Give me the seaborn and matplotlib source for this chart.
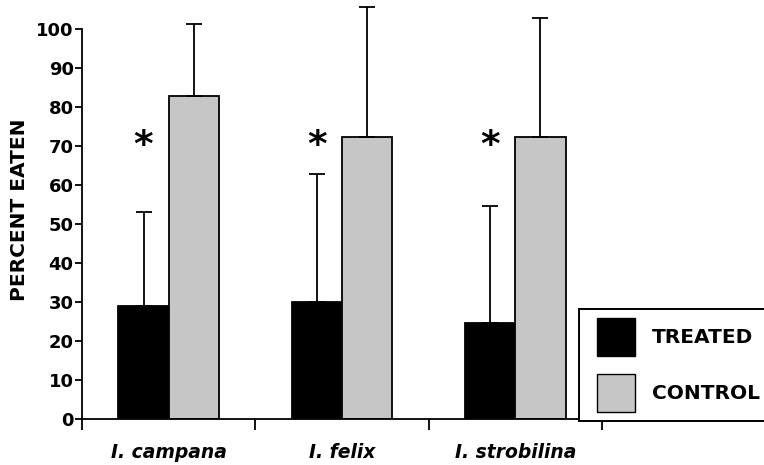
import matplotlib
matplotlib.use("Agg")
import matplotlib.pyplot as plt
from matplotlib.patches import Patch, Rectangle
from matplotlib.legend_handler import HandlerPatch
import seaborn as sns
import pandas as pd
import numpy as np

# ---- data ----
species = ["I. campana", "I. felix", "I. strobilina"]
groups = ["TREATED", "CONTROL"]
treated = [29.0, 30.0, 24.7]
control = [82.7, 72.2, 72.3]
treated_err = [24.0, 32.7, 29.8]
control_err = [18.5, 33.5, 30.6]
yticks = [0, 10, 20, 30, 40, 50, 60, 70, 80, 90, 100]

df = pd.DataFrame({
    "species": species * 2,
    "group": [groups[0]] * 3 + [groups[1]] * 3,
    "value": treated + control,
})

sns.set_style("ticks")
plt.rcParams["font.family"] = ["DejaVu Sans"]
for k in ["text.color", "axes.labelcolor", "xtick.color", "ytick.color", "axes.edgecolor"]:
    plt.rcParams[k] = "black"

colors = {"TREATED": "#000000", "CONTROL": "#c6c6c6"}

fig = plt.figure(figsize=(7.64, 4.65), dpi=100)
ax = fig.add_axes([82 / 764, 1 - 419 / 465, 520 / 764, 390 / 465])

sns.barplot(data=df, x="species", y="value", hue="group", order=species,
            hue_order=groups, palette=colors, width=0.58, gap=0,
            edgecolor="black", linewidth=1.3, errorbar=None, ax=ax,
            legend=False)

errs = {"TREATED": treated_err, "CONTROL": control_err}
for cont, g in zip(ax.containers, groups):
    xs = [p.get_x() + p.get_width() / 2 for p in cont]
    hs = [p.get_height() for p in cont]
    ax.errorbar(xs, hs, yerr=[np.zeros(len(hs)), errs[g]], fmt="none",
                ecolor="black", elinewidth=1.3, capsize=6, capthick=1.3,
                clip_on=False, zorder=1)
    if g == "TREATED":
        for x in xs:
            ax.text(x, 70, "*", ha="center", va="center", fontsize=27,
                    fontweight="bold", color="black")

ax.set_xlim(-0.5, 2.5)
ax.set_ylim(0, 100)
ax.set_yticks(yticks)
ax.set_yticklabels([str(t) for t in yticks], fontsize=13, fontweight="bold")
ax.tick_params(axis="y", length=5, width=1.3, pad=1, direction="out")

ax.set_xticks(range(len(species)))
ax.set_xticklabels(species, fontsize=13.5, fontweight="bold", style="italic")
ax.tick_params(axis="x", which="major", length=0, pad=17)
ax.set_xticks([-0.5, 0.5, 1.5, 2.5], minor=True)
ax.tick_params(axis="x", which="minor", length=8, width=1.3, direction="out")

ax.set_xlabel("")
ax.set_ylabel("PERCENT EATEN", fontsize=14.5, fontweight="bold")
ax.yaxis.set_label_coords(-0.102, 0.536)

for s in ["top", "right"]:
    ax.spines[s].set_visible(False)
for s in ["left", "bottom"]:
    ax.spines[s].set_linewidth(1.3)


def square(legend, orig_handle, xdescent, ydescent, width, height, fontsize):
    return Rectangle((-xdescent + width - height, -ydescent), height, height)


handles = [Patch(facecolor=colors[g], edgecolor="black", linewidth=1.0) for g in groups]
leg = fig.legend(handles, groups, loc="upper left",
                 bbox_to_anchor=(579 / 764, 1 - 309 / 465),
                 bbox_transform=fig.transFigure, borderaxespad=0,
                 prop={"weight": "bold", "size": 14.5},
                 handlelength=2.34, handleheight=2.53, labelspacing=0.9,
                 handletextpad=0.85, borderpad=0.45, fancybox=False,
                 framealpha=1, edgecolor="black",
                 handler_map={Patch: HandlerPatch(patch_func=square)})
leg.get_frame().set_linewidth(1.4)

fig.savefig("out.png", dpi=100)
